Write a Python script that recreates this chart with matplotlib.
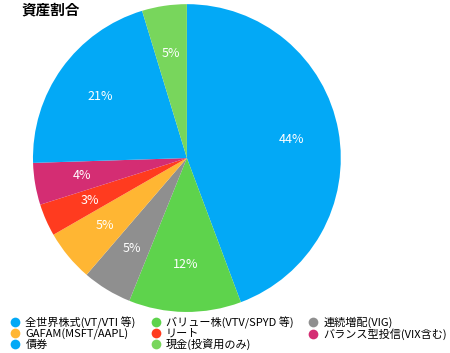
import matplotlib.pyplot as plt
from matplotlib.lines import Line2D

plt.rcParams['font.family'] = ['Noto Sans CJK JP', 'DejaVu Sans']

# data (clockwise from top)
labels = ['全世界株式(VT/VTI 等)', 'バリュー株(VTV/SPYD 等)', '連続増配(VIG)',
          'GAFAM(MSFT/AAPL)', 'リート', 'バランス型投信(VIX含む)',
          '債券', '現金(投資用のみ)']
shares = [44.3, 11.8, 5.2, 5.4, 3.4, 4.4, 20.8, 4.7]
colors = ['#03A9F6', '#5ED34C', '#8F8F8F', '#FFB633', '#FF3B1F', '#D42D73',
          '#03A9F6', '#78D65C']

fig = plt.figure(figsize=(4.5, 3.53), dpi=100)
ax = fig.add_axes([0.0733, 0.116, 0.684, 0.8725])

wedges, texts, autotexts = ax.pie(shares, colors=colors, startangle=90,
                                  counterclock=False, autopct='%.0f%%',
                                  pctdistance=0.69,
                                  textprops={'color': 'white', 'fontsize': 9})
ax.set_xlim(-1, 1)
ax.set_ylim(-1, 1)

fig.text(0.047, 0.972, '資産割合', fontsize=10.5, fontweight='bold', va='center')

# legend is row-major in the original, matplotlib fills columns
order = [0, 3, 6, 1, 4, 7, 2, 5]
handles = [Line2D([], [], marker='o', linestyle='', markersize=7,
                  markerfacecolor=colors[i], markeredgecolor='none') for i in order]
fig.legend(handles, [labels[i] for i in order], ncol=3, frameon=False,
           loc='lower left', bbox_to_anchor=(0.007, -0.01), fontsize=8,
           handletextpad=0.4, columnspacing=1.3, labelspacing=-0.02,
           handlelength=1.0, borderaxespad=0.2)

plt.savefig('out.png')
